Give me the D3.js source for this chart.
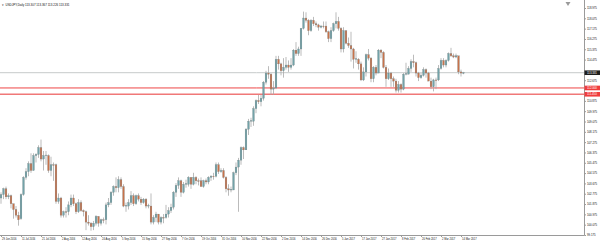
<!DOCTYPE html>
<html>
<head>
<meta charset="utf-8">
<script src="https://cdnjs.cloudflare.com/ajax/libs/d3/7.8.5/d3.min.js"></script>
<style>
  body { margin: 0; background: #fff; }
  svg { display: block; font-family: "Liberation Sans", Arial, sans-serif; }
</style>
</head>
<body>
<div id="chart"></div>
<script>
const width = 600,
  height = 243,
  axisX = 584.5,
  bottomY = 235.5;

// daily bars, [open, high, low, close]
const candles = [
  [102.4, 102.9, 101.9, 102.7], [102.7, 103.3, 102.3, 103.2], [103.2, 103.4, 102.3, 102.5], [102.5, 102.8, 102.3, 102.6],
  [102.6, 102.7, 101.5, 101.9], [101.9, 101.9, 100.6, 101.4], [101.4, 101.7, 100.7, 100.9], [100.9, 101.2, 99.99, 100.5],
  [100.6, 102.8, 100.5, 102.7], [102.7, 104.3, 102.6, 104.2], [104.2, 105.0, 104.0, 104.7], [104.7, 105.6, 104.3, 105.4],
  [105.4, 106.3, 104.6, 104.8], [104.8, 106.3, 104.8, 106.1], [106.1, 106.3, 105.5, 106.2], [106.2, 107.0, 105.9, 106.8],
  [106.8, 107.5, 105.6, 105.8], [105.8, 106.5, 104.8, 106.1], [106.1, 106.5, 105.3, 106.15], [106.1, 106.2, 104.6, 104.8],
  [104.8, 106.0, 104.3, 105.3], [105.3, 105.5, 103.9, 105.25], [105.3, 105.4, 101.9, 102.1], [102.1, 102.8, 101.9, 102.4],
  [102.4, 102.5, 100.7, 100.9], [100.9, 101.3, 100.7, 101.2], [101.2, 101.6, 100.7, 101.15], [101.2, 102.1, 100.9, 101.8],
  [101.8, 102.7, 101.6, 102.4], [102.4, 102.7, 101.7, 101.9], [101.9, 102.0, 101.0, 101.2], [101.2, 102.3, 101.1, 102.0],
  [102.0, 102.2, 101.2, 101.3], [101.3, 101.4, 100.8, 101.2], [101.2, 101.3, 99.6, 100.3], [100.3, 100.9, 100.0, 100.2],
  [100.2, 100.3, 99.55, 99.9], [99.9, 100.4, 99.6, 100.2], [100.2, 100.9, 100.0, 100.8], [100.8, 100.8, 99.9, 100.2],
  [100.2, 100.6, 100.0, 100.5], [100.5, 100.7, 100.2, 100.45], [100.5, 102.0, 100.1, 101.8], [101.8, 102.4, 101.6, 102.0],
  [102.0, 103.0, 101.8, 102.9], [102.9, 103.5, 102.6, 103.4], [103.4, 104.2, 102.9, 103.3], [103.3, 104.3, 102.9, 104.0],
  [104.0, 104.2, 103.2, 103.4], [103.4, 103.6, 101.6, 101.7], [101.7, 102.0, 101.2, 101.75], [101.7, 102.3, 101.4, 102.0],
  [102.0, 103.0, 101.8, 102.6], [102.6, 102.8, 101.7, 101.9], [101.9, 102.7, 101.8, 102.6], [102.6, 102.8, 102.1, 102.3],
  [102.3, 102.5, 101.8, 102.0], [102.0, 102.4, 101.9, 102.3], [102.3, 102.4, 101.5, 101.7], [101.7, 101.9, 101.5, 101.75],
  [101.7, 102.8, 100.1, 100.3], [100.3, 100.9, 100.1, 100.7], [100.7, 101.2, 100.3, 101.0], [101.0, 101.0, 100.1, 100.3],
  [100.3, 100.8, 100.1, 100.7], [100.7, 101.0, 100.2, 100.65], [100.7, 101.8, 100.6, 101.0], [101.0, 101.6, 100.7, 101.3],
  [101.3, 101.9, 101.1, 101.6], [101.6, 103.0, 101.4, 102.9], [102.9, 103.7, 102.5, 103.5], [103.5, 104.2, 103.2, 103.9],
  [103.9, 104.0, 102.5, 102.9], [102.9, 103.8, 102.8, 103.6], [103.6, 104.0, 103.3, 103.65], [103.6, 104.3, 103.4, 104.2],
  [104.2, 104.2, 103.2, 103.6], [103.6, 104.6, 103.5, 104.2], [104.2, 104.3, 103.6, 103.9], [103.9, 104.1, 103.5, 103.85],
  [103.9, 104.2, 103.4, 103.4], [103.4, 104.0, 103.3, 103.9], [103.9, 104.1, 103.6, 103.8], [103.8, 104.3, 103.6, 104.2],
  [104.2, 104.4, 103.9, 104.3], [104.3, 104.6, 104.0, 104.25], [104.3, 105.5, 104.2, 105.3], [105.3, 105.5, 104.5, 104.7],
  [104.7, 105.0, 104.6, 104.8], [104.8, 105.0, 104.1, 104.2], [104.2, 104.3, 102.9, 103.2], [103.2, 103.6, 102.6, 103.1],
  [103.1, 103.4, 102.9, 103.15], [103.1, 104.7, 103.1, 104.6], [104.6, 105.5, 104.4, 105.1], [105.1, 105.9, 101.2, 105.7],
  [105.7, 106.9, 105.3, 106.8], [106.8, 106.9, 105.8, 106.6], [106.6, 108.5, 106.6, 108.4], [108.4, 109.3, 107.9, 109.1],
  [109.1, 109.4, 108.6, 109.15], [109.1, 110.4, 108.7, 110.2], [110.2, 111.0, 109.8, 110.9], [110.9, 111.4, 110.6, 110.8],
  [110.8, 111.4, 110.4, 111.1], [111.1, 112.6, 110.9, 112.5], [112.5, 113.5, 112.3, 113.3], [113.3, 113.9, 112.8, 113.2],
  [113.2, 113.3, 111.4, 111.9], [111.9, 112.6, 111.4, 112.0], [112.0, 114.8, 111.9, 114.5], [114.5, 114.8, 113.6, 114.1],
  [114.1, 114.2, 113.1, 113.5], [113.5, 114.6, 112.9, 113.8], [113.8, 114.7, 113.6, 114.0], [114.0, 114.4, 113.4, 113.8],
  [113.8, 114.6, 113.6, 114.0], [114.0, 115.4, 113.9, 115.3], [115.3, 116.0, 114.8, 115.0], [115.0, 115.6, 114.8, 115.4],
  [115.4, 117.2, 114.8, 117.2], [117.2, 118.66, 117.1, 118.1], [118.1, 118.6, 117.7, 117.9], [117.9, 118.0, 116.6, 117.0],
  [117.0, 118.0, 116.9, 117.9], [117.9, 118.2, 117.4, 117.6], [117.6, 117.8, 117.3, 117.5], [117.5, 117.6, 117.0, 117.3],
  [117.3, 117.5, 117.2, 117.4], [117.4, 117.8, 117.2, 117.35], [117.4, 117.8, 116.8, 116.9], [116.9, 117.0, 116.0, 116.3],
  [116.3, 117.3, 116.0, 117.0], [117.0, 117.7, 116.9, 117.6], [117.6, 118.6, 117.2, 117.8], [117.8, 118.2, 117.0, 117.2],
  [117.2, 117.3, 115.1, 115.4], [115.4, 117.3, 115.1, 117.0], [117.0, 117.0, 115.8, 115.9], [115.9, 116.4, 115.5, 115.7],
  [115.7, 116.9, 114.3, 115.4], [115.4, 115.5, 113.7, 114.5], [114.5, 115.2, 114.2, 114.55], [114.5, 114.6, 113.6, 114.1],
  [114.1, 114.3, 112.6, 112.7], [112.7, 113.8, 112.6, 113.4], [113.4, 115.0, 113.0, 114.9], [114.9, 115.4, 114.4, 114.6],
  [114.6, 114.7, 112.5, 112.8], [112.8, 113.9, 112.5, 113.8], [113.8, 114.0, 113.1, 113.3], [113.3, 115.4, 113.3, 115.3],
  [115.3, 115.4, 114.6, 115.1], [115.1, 115.2, 113.7, 113.8], [113.8, 114.0, 112.1, 112.8], [112.8, 113.7, 112.7, 113.3],
  [113.3, 113.4, 112.1, 112.8], [112.8, 113.0, 112.1, 112.6], [112.6, 112.8, 111.6, 111.8], [111.8, 112.6, 111.6, 112.3],
  [112.3, 112.4, 111.6, 111.9], [111.9, 113.3, 111.8, 113.2], [113.2, 114.2, 113.1, 113.25], [113.2, 113.9, 113.2, 113.7],
  [113.7, 114.5, 113.4, 114.3], [114.3, 114.9, 113.8, 114.2], [114.2, 114.3, 113.0, 113.3], [113.3, 113.4, 112.6, 112.9],
  [112.9, 113.3, 112.8, 113.1], [113.1, 113.8, 113.0, 113.6], [113.6, 113.7, 112.9, 113.3], [113.3, 113.4, 112.6, 112.6],
  [112.6, 112.9, 111.9, 112.1], [112.1, 112.8, 111.7, 112.7], [112.7, 112.9, 111.9, 112.65], [112.7, 114.0, 112.6, 113.7],
  [113.7, 114.6, 113.6, 114.4], [114.4, 114.6, 113.8, 114.0], [114.0, 114.5, 113.8, 114.4], [114.4, 115.1, 114.3, 115.0],
  [115.0, 115.5, 114.7, 114.8], [114.8, 115.0, 114.6, 114.7], [114.7, 115.0, 114.6, 114.8], [114.8, 114.8, 113.2, 113.4],
  [113.4, 113.6, 113.0, 113.3], [113.3, 113.4, 113.2, 113.33]
];

// one label every 8 bars
const dateLabels = [
  "29 Jun 2016", "11 Jul 2016", "21 Jul 2016", "2 Aug 2016", "12 Aug 2016", "24 Aug 2016",
  "5 Sep 2016", "15 Sep 2016", "27 Sep 2016", "7 Oct 2016", "19 Oct 2016", "31 Oct 2016",
  "10 Nov 2016", "22 Nov 2016", "2 Dec 2016", "14 Dec 2016", "26 Dec 2016", "5 Jan 2017",
  "17 Jan 2017", "27 Jan 2017", "8 Feb 2017", "20 Feb 2017", "2 Mar 2017", "14 Mar 2017"
];

const priceTicks = [
  118.975, 118.075, 117.175, 116.275, 115.375, 114.475, 113.575, 112.675, 111.775, 110.875,
  109.975, 109.075, 108.175, 107.275, 106.375, 105.475, 104.575, 103.675, 102.775, 101.875,
  100.975, 100.075, 99.175
];

const bidPrice = 113.331;
const levels = [112.0, 111.45];
const title = "USDJPY,Daily  113.307 113.367 113.226 113.331";

const svg = d3
  .select("#chart")
  .append("svg")
  .attr("width", width)
  .attr("height", height);

svg.append("rect").attr("width", width).attr("height", height).attr("fill", "#ffffff");

const xScale = d3.scaleLinear().domain([0, 185]).range([1, 463.5]);
const yScale = d3.scaleLinear().domain([99.175, 118.975]).range([235, 8]);

//Bid line and levels
svg
  .append("line")
  .attr("x1", 0)
  .attr("x2", axisX)
  .attr("y1", yScale(bidPrice))
  .attr("y2", yScale(bidPrice))
  .attr("stroke", "#c6caca")
  .attr("stroke-width", 1);

svg
  .selectAll(".level")
  .data(levels)
  .enter()
  .append("line")
  .attr("x1", 0)
  .attr("x2", axisX)
  .attr("y1", (d) => yScale(d))
  .attr("y2", (d) => yScale(d))
  .attr("stroke", (d, i) => (i == 0 ? "#ee4646" : "#f07878"))
  .attr("stroke-width", (d, i) => (i == 0 ? 1 : 1.4));

//Candles
const bars = svg
  .append("g")
  .selectAll("g")
  .data(candles)
  .enter()
  .append("g");

bars
  .append("line")
  .attr("x1", (d, i) => xScale(i))
  .attr("x2", (d, i) => xScale(i))
  .attr("y1", (d) => yScale(d[1]))
  .attr("y2", (d) => yScale(d[2]))
  .attr("stroke", "#a9a9a9")
  .attr("stroke-width", 0.8);

bars
  .append("rect")
  .attr("x", (d, i) => xScale(i) - 0.9)
  .attr("width", 1.8)
  .attr("y", (d) => yScale(Math.max(d[0], d[3])))
  .attr("height", (d) => Math.max(0.6, Math.abs(yScale(d[0]) - yScale(d[3]))))
  .attr("fill", (d) => (d[3] > d[0] ? "#72a2a8" : d[3] < d[0] ? "#c8724a" : "#777777"))
  .attr("stroke", "#6d7b7d")
  .attr("stroke-width", 0.25);

//Frame
svg
  .append("line")
  .attr("x1", axisX)
  .attr("x2", axisX)
  .attr("y1", 0)
  .attr("y2", bottomY)
  .attr("stroke", "#9a9a9a");

svg
  .append("line")
  .attr("x1", 0)
  .attr("x2", axisX)
  .attr("y1", bottomY)
  .attr("y2", bottomY)
  .attr("stroke", "#9a9a9a");

//Price axis (labels under the boxes are hidden)
const boxed = [bidPrice].concat(levels);
const y = d3
  .axisRight(yScale)
  .tickValues(priceTicks.filter((p) => boxed.every((b) => Math.abs(yScale(p) - yScale(b)) > 4)))
  .tickSize(1.5)
  .tickPadding(1)
  .tickFormat(d3.format(".3f"));

svg
  .append("g")
  .attr("transform", `translate(${axisX}, 0)`)
  .call(y)
  .call((g) => g.select(".domain").remove())
  .call((g) => g.selectAll("line").attr("stroke", "#9a9a9a"))
  .call((g) => g.selectAll("text").attr("font-size", 2.8).attr("fill", "#111"));

//Price boxes
const boxes = svg
  .selectAll(".box")
  .data(boxed)
  .enter()
  .append("g")
  .attr("transform", (d) => `translate(${axisX}, ${yScale(d)})`);

boxes
  .append("rect")
  .attr("x", 0)
  .attr("y", -2.3)
  .attr("width", width - axisX)
  .attr("height", 4.6)
  .attr("fill", (d, i) => (i == 0 ? "#1e1e1e" : "#f03c3c"));

boxes
  .append("text")
  .attr("x", 2.5)
  .attr("y", 1)
  .attr("font-size", 2.8)
  .attr("fill", "#ffffff")
  .text((d) => d3.format(".3f")(d));

//Date axis
const x = d3
  .axisBottom(xScale)
  .tickValues(dateLabels.map((d, i) => i * 8))
  .tickSize(1.5)
  .tickFormat((d, i) => dateLabels[i]);

svg
  .append("g")
  .attr("transform", `translate(0, ${bottomY})`)
  .call(x)
  .call((g) => g.select(".domain").remove())
  .call((g) => g.selectAll("line").attr("stroke", "#9a9a9a"))
  .call((g) =>
    g
      .selectAll("text")
      .attr("font-size", 2.6)
      .attr("fill", "#111")
      .attr("text-anchor", "start")
      .attr("x", 0.6)
      .attr("y", 2.2)
      .attr("dy", "0.71em")
  );

//Title and chart shift marker
svg
  .append("text")
  .attr("x", 1.5)
  .attr("y", 6)
  .attr("font-size", 2.6)
  .attr("fill", "#333")
  .text("\u25BC");

svg
  .append("text")
  .attr("x", 5.5)
  .attr("y", 6)
  .attr("font-size", 3.1)
  .attr("textLength", 64)
  .attr("lengthAdjust", "spacingAndGlyphs")
  .attr("fill", "#111")
  .text(title);

svg
  .append("path")
  .attr("d", d3.line()([[565.5, 2], [570.5, 2], [568, 6]]))
  .attr("fill", "#9a9a9a");
</script>
</body>
</html>
